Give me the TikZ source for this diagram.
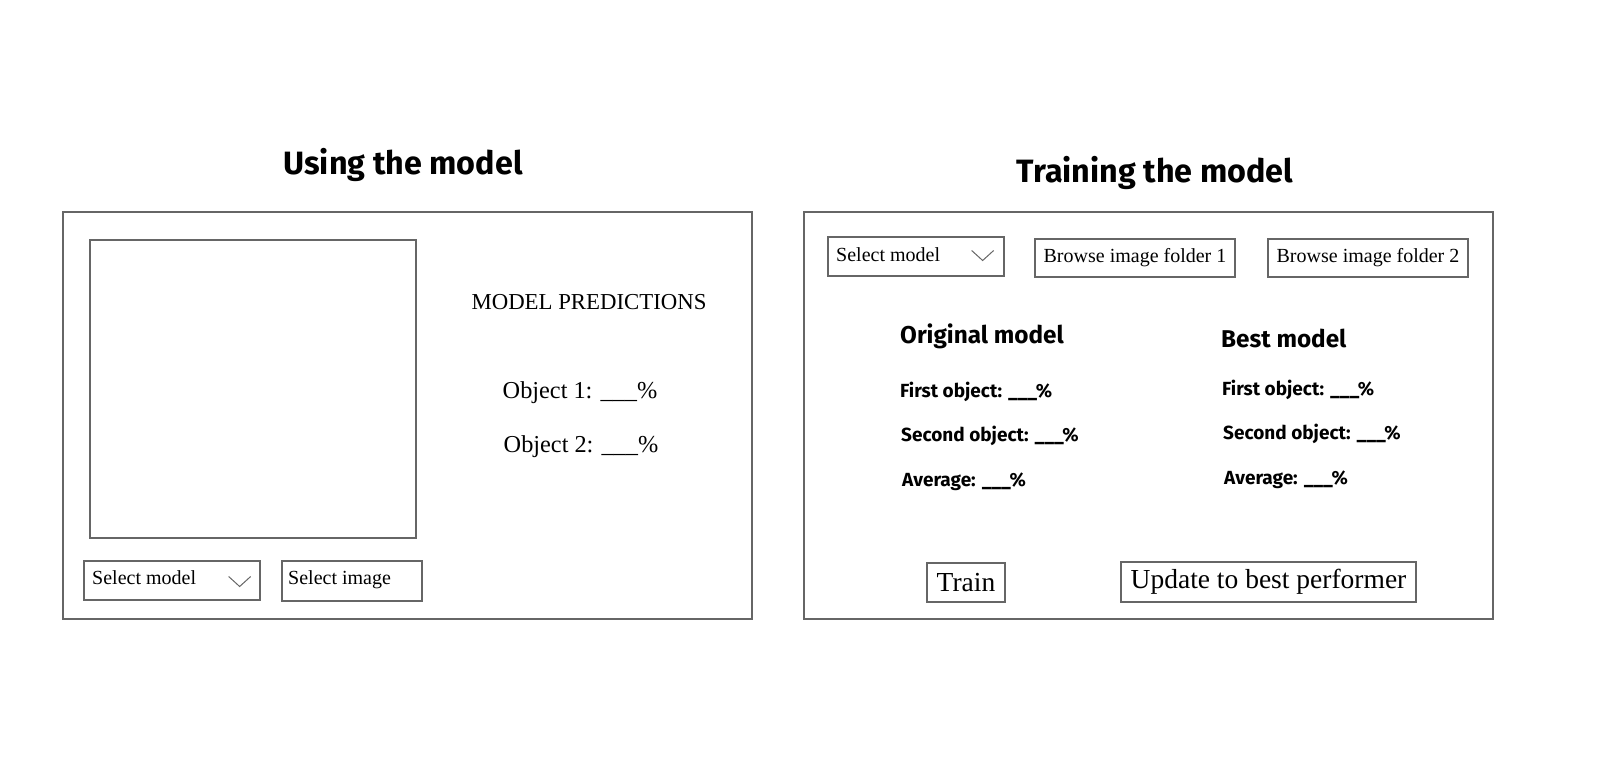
\documentclass[tikz,border=0pt]{standalone}
\usepackage{fontspec}
\setmainfont{Liberation Serif}
\setsansfont{Fira Sans}
\begin{document}
\begin{tikzpicture}[x=1pt,y=-1pt,
  box/.style={draw=black!60,line width=1.3pt,inner sep=0pt,minimum width=#1},
  heading/.style={font=\sffamily\bfseries\fontsize{32.3}{36}\selectfont},
  subhead/.style={font=\sffamily\bfseries\fontsize{24.3}{28}\selectfont,anchor=west,inner sep=0pt},
  stat/.style={font=\sffamily\bfseries\fontsize{19}{22}\selectfont,anchor=west,inner sep=0pt},
  small/.style={font=\fontsize{20}{24}\selectfont,inner sep=0pt},
  big/.style={font=\fontsize{24.3}{28}\selectfont,inner sep=0pt},
  btn/.style={font=\fontsize{27.5}{30}\selectfont,inner sep=0pt},
  chev/.style={draw=black!60,line width=1pt}]
\useasboundingbox (0,0) rectangle (1605,773);
% headings
\node[heading] (h1) at (403,165) {Using the model};
\node[heading] (h2) at (1155,173) {Training the model};
% left panel
\node[box=689pt,minimum height=407pt] (lp) at (407.5,415.5) {};
\node[box=326pt,minimum height=298pt] (img) at (253,389) {};
\node[font=\fontsize{22.8}{26}\selectfont,inner sep=0pt] (mp) at (589,302) {MODEL PREDICTIONS};
\node[big] (o1) at (580,393) {Object 1: \_\_\_\%};
\node[big] (o2) at (581,447) {Object 2: \_\_\_\%};
\node[box=176pt,minimum height=39pt] (sm1) at (172,580.5) {};
\node[small,anchor=west] (sm1t) at (92,578) {Select model};
\draw[chev] ([xshift=-32pt,yshift=4pt]sm1.east) -- ++(11,10) -- ++(11,-10);
\node[box=140pt,minimum height=40pt] (si) at (352,581) {};
\node[small,anchor=west] (sit) at (288,580) {Select image};
% right panel
\node[box=689pt,minimum height=407pt] (rp) at (1148.5,415.5) {};
\node[box=176pt,minimum height=39pt] (sm2) at (916,256.5) {};
\node[small,anchor=west] (sm2t) at (836,255) {Select model};
\draw[chev] ([xshift=-33pt,yshift=6pt]sm2.east) -- ++(11,10) -- ++(11,-10);
\node[box=200pt,minimum height=38pt,small] (bf1) at (1135,258) {Browse image folder 1};
\node[box=200pt,minimum height=38pt,small] (bf2) at (1368,258) {Browse image folder 2};
\node[subhead] (om) at (900,336) {Original model};
\node[subhead] (bm) at (1221,338) {Best model};
\node[stat] (f1) at (900,392) {First object: \_\_\_\%};
\node[stat] (s1) at (901,436) {Second object: \_\_\_\%};
\node[stat] (a1) at (902,482) {Average: \_\_\_\%};
\node[stat] (f2) at (1222,390) {First object: \_\_\_\%};
\node[stat] (s2) at (1223,434) {Second object: \_\_\_\%};
\node[stat] (a2) at (1224,480) {Average: \_\_\_\%};
\node[box=78pt,minimum height=39pt,btn] (tr) at (966,582.5) {Train};
\node[box=295pt,minimum height=40pt,btn] (up) at (1268.5,582) {Update to best performer};
\end{tikzpicture}
\end{document}
